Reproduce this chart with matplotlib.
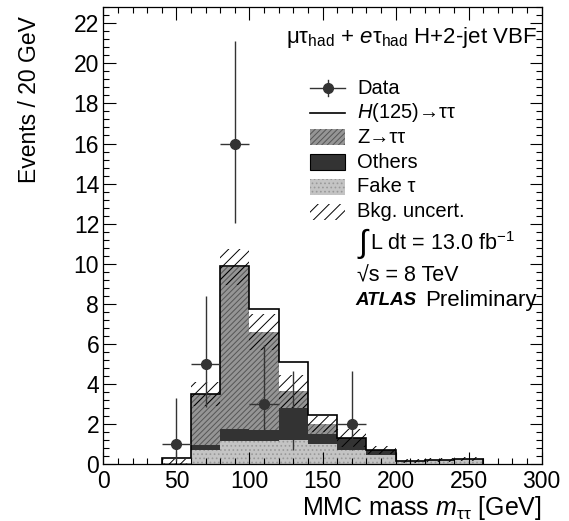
import numpy as np
import matplotlib
matplotlib.use("Agg")
import matplotlib.pyplot as plt
from matplotlib.patches import Rectangle
from matplotlib.lines import Line2D
from matplotlib.ticker import MultipleLocator

plt.rcParams['font.family'] = ['Liberation Sans', 'DejaVu Sans']
plt.rcParams['mathtext.fontset'] = 'custom'
plt.rcParams['mathtext.rm'] = 'Liberation Sans'
plt.rcParams['mathtext.it'] = 'Liberation Sans:italic'
plt.rcParams['mathtext.bf'] = 'Liberation Sans:bold'
plt.rcParams['hatch.linewidth'] = 0.7

# bin edges in MMC mass [GeV]
edges = np.arange(40, 261, 20)

# stacked backgrounds (bottom to top)
fake = np.array([0.02, 0.71, 1.15, 1.15, 1.20, 1.00, 0.72, 0.45, 0.15, 0.20, 0.25])
others = np.array([0.00, 0.25, 0.60, 0.55, 1.62, 0.50, 0.56, 0.25, 0.00, 0.00, 0.00])
ztt = np.array([0.05, 2.55, 8.10, 4.90, 0.80, 0.50, 0.02, 0.00, 0.00, 0.00, 0.00])
higgs = np.array([0.23, 0.00, 0.02, 1.15, 1.45, 0.44, 0.00, 0.00, 0.00, 0.00, 0.00])
bkg_err = np.array([0.20, 0.60, 0.90, 0.90, 0.80, 0.40, 0.45, 0.22, 0.10, 0.10, 0.10])

# data points
data_x = np.array([50, 70, 90, 110, 130, 170])
data_y = np.array([1, 5, 16, 3, 2, 2])
data_lo = np.array([0.83, 2.16, 3.96, 1.63, 1.29, 1.29])
data_hi = np.array([2.30, 3.38, 5.10, 2.92, 2.63, 2.63])

c_fake = '#c4c4c4'
c_others = '#333333'
c_ztt = '#959595'

fig = plt.figure(figsize=(5.69, 5.21), dpi=100)
ax = fig.add_axes([103.3 / 569, 57 / 521, 438.4 / 569, 456.7 / 521])

s1 = fake
s2 = s1 + others
s3 = s2 + ztt
s4 = s3 + higgs

ax.stairs(s1, edges, baseline=0, fill=True, facecolor=c_fake,
          edgecolor='#999999', hatch='....', lw=0)
ax.stairs(s2, edges, baseline=s1, fill=True, facecolor=c_others,
          edgecolor=c_others, lw=0)
ax.stairs(s3, edges, baseline=s2, fill=True, facecolor=c_ztt,
          edgecolor='#555555', hatch='//////', lw=0)
ax.stairs(s4, edges, baseline=s3, fill=True, facecolor='white', lw=0)
ax.stairs(np.clip(s3 + bkg_err, 0, None), edges,
          baseline=np.clip(s3 - bkg_err, 0, None), fill=True,
          facecolor='none', edgecolor='black', hatch='///', lw=0)
ax.stairs(s4, edges, baseline=0, fill=False, color='black', lw=1.2)

ax.errorbar(data_x, data_y, yerr=[data_lo, data_hi], xerr=10, fmt='o',
            color='#333333', ms=7, elinewidth=1, capsize=0, zorder=5)

ax.set_xlim(0, 300)
ax.set_ylim(0, 22.8)
ax.xaxis.set_major_locator(MultipleLocator(50))
ax.xaxis.set_minor_locator(MultipleLocator(10))
ax.yaxis.set_major_locator(MultipleLocator(2))
ax.yaxis.set_minor_locator(MultipleLocator(0.4))
ax.tick_params(which='both', direction='in', top=True, right=True,
               labelsize=16.5, width=0.8)
ax.tick_params(which='major', length=9)
ax.tick_params(which='minor', length=4.5)
ax.tick_params(axis='x', pad=4)
ax.tick_params(axis='y', pad=3)
for sp in ax.spines.values():
    sp.set_linewidth(0.9)

ax.set_ylabel('Events / 20 GeV', fontsize=16.5)
ax.yaxis.set_label_coords(-0.142, 0.797)
ax.set_xlabel(r'MMC mass $m_{\mathrm{\tau\tau}}$ [GeV]', fontsize=18, loc='right')
ax.xaxis.set_label_coords(1.0, -0.066)

ax.text(0.989, 0.933,
        r'$\mathrm{\mu\tau}_{\mathrm{had}}$ + $e\mathrm{\tau}_{\mathrm{had}}$ H+2-jet VBF',
        transform=ax.transAxes, ha='right', va='center', fontsize=16)

# legend, drawn by hand
tr = ax.transAxes
sx0, sx1, tx = 0.472, 0.552, 0.579
rows = [0.823, 0.769, 0.716, 0.661, 0.607, 0.552]
ph = 0.036
fs = 14.5

ax.add_line(Line2D([sx0, sx1], [rows[0]] * 2, color='#333333', lw=1, transform=tr))
ax.add_line(Line2D([(sx0 + sx1) / 2] * 2, [rows[0] - 0.018, rows[0] + 0.018],
                   color='#333333', lw=1, transform=tr))
ax.add_line(Line2D([(sx0 + sx1) / 2], [rows[0]], marker='o', ms=7,
                   color='#333333', transform=tr))
ax.add_line(Line2D([sx0, sx1], [rows[1]] * 2, color='black', lw=1.2, transform=tr))
ax.add_patch(Rectangle((sx0, rows[2] - ph / 2), sx1 - sx0, ph, transform=tr,
                       facecolor=c_ztt, edgecolor='#555555', hatch='//////', lw=0))
ax.add_patch(Rectangle((sx0, rows[3] - ph / 2), sx1 - sx0, ph, transform=tr,
                       facecolor=c_others, edgecolor='black', lw=0.8))
ax.add_patch(Rectangle((sx0, rows[4] - ph / 2), sx1 - sx0, ph, transform=tr,
                       facecolor=c_fake, edgecolor='#999999', hatch='....', lw=0))
ax.add_patch(Rectangle((sx0, rows[5] - ph / 2), sx1 - sx0, ph, transform=tr,
                       facecolor='none', edgecolor='black', hatch='///', lw=0))

labels = ['Data', r'$H$(125)→ττ', 'Z→ττ', 'Others', 'Fake τ', 'Bkg. uncert.']
for y, lab in zip(rows, labels):
    ax.text(tx, y, lab, transform=tr, ha='left', va='center', fontsize=fs)

ax.text(tx, 0.482, r'$\int$', transform=tr, ha='left', va='center', fontsize=23)
ax.text(0.609, 0.482, r'L dt = 13.0 fb$^{\mathregular{-1}}$', transform=tr,
        ha='left', va='center', fontsize=15.5)
ax.text(tx, 0.412, '√s = 8 TeV', transform=tr,
        ha='left', va='center', fontsize=15.5)
ax.text(0.576, 0.359, 'ATLAS', transform=tr, ha='left', va='center',
        fontsize=13.5, fontweight='bold', fontstyle='italic')
ax.text(0.989, 0.359, 'Preliminary', transform=tr, ha='right', va='center',
        fontsize=16)

fig.savefig('out.png', dpi=100)
